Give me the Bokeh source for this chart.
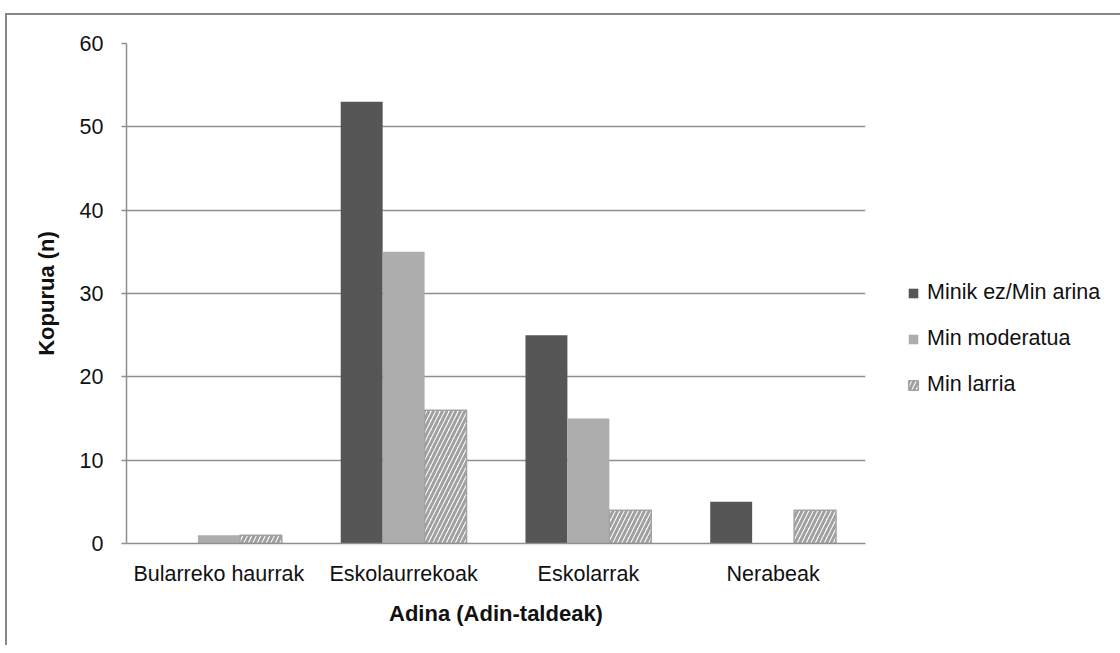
from bokeh.plotting import figure
from bokeh.models import FactorRange, Range1d, Legend, LegendItem, ColumnDataSource
from bokeh.transform import dodge
from bokeh.embed import file_html
from bokeh.resources import INLINE

categories = ["Bularreko haurrak", "Eskolaurrekoak", "Eskolarrak", "Nerabeak"]
series_names = ["Minik ez/Min arina", "Min moderatua", "Min larria"]
minik_ez = [0, 53, 25, 5]
min_moderatua = [1, 35, 15, 0]
min_larria = [1, 16, 4, 4]
y_ticks = [0, 10, 20, 30, 40, 50, 60]

source = ColumnDataSource(data=dict(cat=categories, a=minik_ez, b=min_moderatua, c=min_larria))

FONT = "Liberation Sans"

p = figure(x_range=FactorRange(*categories), y_range=Range1d(0, 60),
           frame_width=739, frame_height=500, output_backend="svg", toolbar_location=None,
           min_border_left=119, min_border_right=0, min_border_top=28, min_border_bottom=102)
p.styles = {"border-left": "2px solid #878787", "border-top": "2px solid #878787",
            "margin-top": "13px", "margin-left": "5px"}
p.outline_line_color = None
p.background_fill_color = "white"
p.border_fill_color = "white"

bw = 0.227
r1 = p.vbar(x=dodge("cat", -bw, range=p.x_range), top="a", width=bw, source=source,
            fill_color="#565656", line_color=None)
r2 = p.vbar(x=dodge("cat", 0, range=p.x_range), top="b", width=bw, source=source,
            fill_color="#adadad", line_color=None)
r3 = p.vbar(x=dodge("cat", bw, range=p.x_range), top="c", width=bw, source=source,
            fill_color="white", line_color="#a3a3a3", line_width=1.5,
            hatch_pattern="/", hatch_color="#a0a0a0", hatch_scale=9, hatch_weight=3)

# grid
p.xgrid.grid_line_color = None
p.ygrid.grid_line_color = "#8f8f8f"
p.ygrid.grid_line_width = 1.5
p.yaxis.ticker = y_ticks

# axes
for ax in (p.xaxis[0], p.yaxis[0]):
    ax.axis_line_color = "#8f8f8f"
    ax.axis_line_width = 1.5
    ax.major_label_text_font = FONT
    ax.major_label_text_font_size = "21.5px"
    ax.major_label_text_color = "#111111"
    ax.axis_label_text_font = FONT
    ax.axis_label_text_font_size = "22px"
    ax.axis_label_text_font_style = "bold"
    ax.axis_label_text_color = "#111111"
    ax.minor_tick_line_color = None

p.xaxis.major_tick_line_color = None
p.xaxis.major_tick_out = 0
p.xaxis.major_label_standoff = 18
p.xaxis.axis_label = "Adina (Adin-taldeak)"
p.xaxis.axis_label_standoff = 12

p.yaxis.major_tick_line_color = "#8f8f8f"
p.yaxis.major_tick_line_width = 1.5
p.yaxis.major_tick_in = 0
p.yaxis.major_tick_out = 5
p.yaxis.major_label_standoff = 18
p.yaxis.axis_label = "Kopurua (n)"
p.yaxis.axis_label_standoff = 18

legend = Legend(items=[LegendItem(label=series_names[0], renderers=[r1]),
                       LegendItem(label=series_names[1], renderers=[r2]),
                       LegendItem(label=series_names[2], renderers=[r3])],
                location=(42, 146), orientation="vertical")
legend.border_line_color = None
legend.background_fill_alpha = 0
legend.padding = 0
legend.margin = 0
legend.spacing = 21
legend.glyph_width = 12
legend.glyph_height = 12
legend.label_standoff = 8
legend.label_height = 24
legend.label_text_font = FONT
legend.label_text_font_size = "21.5px"
legend.label_text_color = "#111111"
p.add_layout(legend, "right")

open("out.html", "w").write(file_html(p, INLINE))
